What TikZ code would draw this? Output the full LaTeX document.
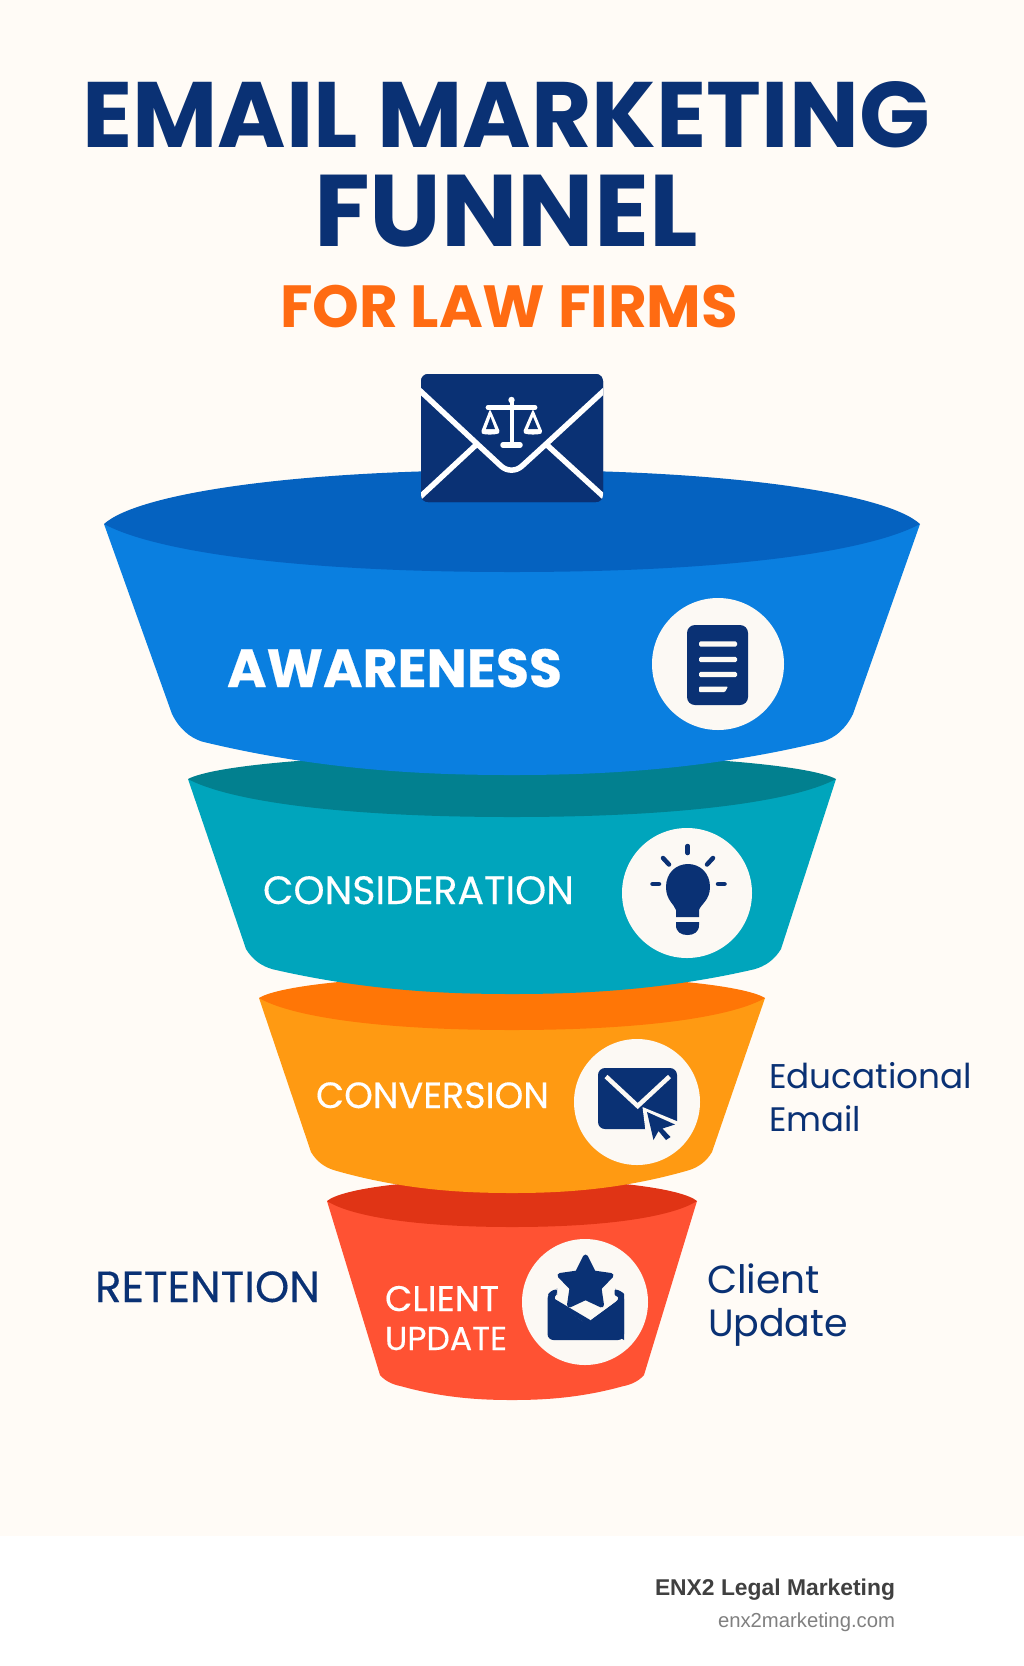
\documentclass[tikz,border=0pt]{standalone}
\usepackage{fontspec}
\usepackage{graphicx}
\setmainfont{Poppins}
\newfontfamily\medfont[FakeBold=0.35]{Poppins}
\newfontfamily\footfont{Liberation Sans}
\definecolor{cream}{HTML}{FFFBF6}
\definecolor{navy}{HTML}{0A3174}
\definecolor{orangetitle}{HTML}{FF6B12}
\definecolor{iconbg}{HTML}{FCF9F4}
\definecolor{blueA}{HTML}{0A7FE0}\definecolor{blueB}{HTML}{0562C0}
\definecolor{tealA}{HTML}{00A5BC}\definecolor{tealB}{HTML}{02808F}
\definecolor{orgA}{HTML}{FF9A12}\definecolor{orgB}{HTML}{FF7606}
\definecolor{redA}{HTML}{FF5233}\definecolor{redB}{HTML}{E03415}
\tikzset{
  txt/.style={anchor=base west,inner sep=0pt,outer sep=0pt},
  disc/.style={circle,fill=iconbg,inner sep=0pt,outer sep=0pt},
  ray/.style={draw=navy,line width=4.5pt,line cap=round},
  wl/.style={draw=white,line width=5.5pt},
}
% L R Y RY BL BR BY LOW body top
\newcommand{\funnelseg}[9]{%
  \pgfmathsetmacro{\cxx}{(#1+#2)/2}%
  \pgfmathsetmacro{\hw}{(#6-#5)/2}%
  \pgfmathsetmacro{\ox}{16+0.04*\hw}%
  \pgfmathsetmacro{\oy}{0.45*(#8-#7)}%
  \fill[#9] (#1,#3) -- (#5,#7)
    .. controls ({#5+0.25*\ox},{#7+0.55*\oy}) and ({#5+0.6*\ox},{#7+0.85*\oy}) .. ({#5+\ox},{#7+\oy})
    .. controls ({#5+\ox+0.4*(\hw-\ox)},{#8-0.1*(#8-#7-\oy)}) and ({\cxx-0.25*(\hw-\ox)},#8) .. (\cxx,#8)
    .. controls ({\cxx+0.25*(\hw-\ox)},#8) and ({#6-\ox-0.4*(\hw-\ox)},{#8-0.1*(#8-#7-\oy)}) .. ({#6-\ox},{#7+\oy})
    .. controls ({#6-0.6*\ox},{#7+0.85*\oy}) and ({#6-0.25*\ox},{#7+0.55*\oy}) .. (#6,#7)
    -- (#2,#3) -- cycle;%
}
\newcommand{\funneltop}[6]{% L R Y up down colour
  \pgfmathsetmacro{\cxx}{(#1+#2)/2}%
  \pgfmathsetmacro{\hw}{(#2-#1)/2}%
  \fill[#6] (#1,#3) .. controls ({#1+0.08*\hw},{#3-0.55*#4}) and ({\cxx-0.55*\hw},{#3-#4}) .. (\cxx,{#3-#4})
     .. controls ({\cxx+0.55*\hw},{#3-#4}) and ({#2-0.08*\hw},{#3-0.55*#4}) .. (#2,#3)
     .. controls ({#2-0.12*\hw},{#3+0.55*#5}) and ({\cxx+0.55*\hw},{#3+#5}) .. (\cxx,{#3+#5})
     .. controls ({\cxx-0.55*\hw},{#3+#5}) and ({#1+0.12*\hw},{#3+0.55*#5}) .. (#1,#3) -- cycle;%
}
\begin{document}
\begin{tikzpicture}[x=1pt,y=-1pt]
\useasboundingbox (0,0) rectangle (1024,1666);
\fill[white] (0,0) rectangle (1024,1666);
\fill[cream] (0,0) rectangle (1024,1536);
% title
\node[txt,text=navy] (title1) at (82,147) {\resizebox{848pt}{!}{\fontsize{60}{60}\selectfont\bfseries EMAIL MARKETING}};
\node[txt,text=navy] (title2) at (314,246) {\resizebox{384pt}{!}{\fontsize{60}{60}\selectfont\bfseries FUNNEL}};
\node[txt,text=orangetitle] (title3) at (280,327) {\resizebox{458pt}{!}{\fontsize{40}{40}\selectfont\bfseries FOR LAW FIRMS}};
% funnel (bottom to top)
\funnelseg{327}{697}{1201}{0}{380}{644}{1375}{1400}{redA}
\funneltop{327}{697}{1201}{22}{26}{redB}
\funnelseg{259}{765}{998}{0}{311}{712}{1152}{1193}{orgA}
\funneltop{259}{765}{998}{23}{32}{orgB}
\funnelseg{188}{836}{779}{0}{246}{781}{949}{994}{tealA}
\funneltop{188}{836}{779}{25}{38}{tealB}
\funnelseg{104}{920}{524}{0}{172}{853}{714}{775}{blueA}
\funneltop{104}{920}{524}{54}{48}{blueB}
% top envelope
\begin{scope}
\fill[navy] (421,374) [rounded corners=7pt] -- (603,374) -- (603,502) -- (421,502) -- cycle;
\clip[rounded corners=7pt] (421,374) rectangle (603,502);
\fill[navy,rounded corners=7pt] (421,374) rectangle (603,502);
\draw[wl] (415,386) -- (478.3,445) -- (501,466) .. controls (507,471.5) and (516,471.5) .. (522,466) -- (545,445) -- (609,386);
\draw[wl] (420,497) -- (476,445);
\draw[wl] (547,445) -- (604,497);
\end{scope}
% scales
\fill[white] (511.5,400) circle (3.2);
\fill[white] (509.5,400) rectangle (513.5,444);
\draw[white,line width=4.8pt,line cap=round] (488,407.5) -- (535,407.5);
\draw[white,line width=5.5pt,line cap=round] (503,445) -- (520,445);
\fill[white,rounded corners=1.5pt] (490,409) -- (481,432) .. controls (483,435) and (497,435) .. (500,432) -- cycle;
\fill[navy] (490.5,417) -- (486,429) -- (495,429) -- cycle;
\fill[white,rounded corners=1.5pt] (533,409) -- (523,432) .. controls (526,435) and (540,435) .. (542.5,432) -- cycle;
\fill[navy] (533,417) -- (528,429) -- (538,429) -- cycle;
% discs
\node[disc,minimum size=132pt] (disc1) at (718,664) {};
\node[disc,minimum size=130pt] (disc2) at (687,893) {};
\node[disc,minimum size=126pt] (disc3) at (637,1102) {};
\node[disc,minimum size=126pt] (disc4) at (585,1302) {};
% document icon
\fill[navy,rounded corners=8pt] (687,625) rectangle (748,705);
\foreach \yy in {644,659.5,674.5}{\fill[iconbg,rounded corners=1.5pt] (699,{\yy-2.7}) rectangle (737,{\yy+2.7});}
\fill[iconbg,rounded corners=1pt] (699,686.5) -- (728,686.5) -- (725,692) -- (699,692) -- cycle;
% bulb icon
\fill[navy] (676,917) -- (676,910) .. controls (674,904) and (666,900) .. (666,887)
  .. controls (666,873) and (676,864) .. (688,864)
  .. controls (700,864) and (710,873) .. (710,887)
  .. controls (710,900) and (701,904) .. (699,910) -- (699,917) -- cycle;
\fill[navy] (676,922) -- (699,922) -- (699,925) .. controls (699,932) and (694,935) .. (687.5,935) .. controls (681,935) and (676,932) .. (676,925) -- cycle;
\draw[ray] (687.7,846) -- (687.7,853);
\draw[ray] (663,858) -- (669,864.5);
\draw[ray] (713,858) -- (707,864.5);
\draw[ray] (652.5,884) -- (659,884);
\draw[ray] (718,884) -- (724.5,884);
% mail-click icon
\fill[navy,rounded corners=7pt] (598,1068) rectangle (677,1129);
\fill[iconbg] (642.5,1107) -- (679,1122) -- (679,1131) -- (645.5,1131) -- cycle;
\draw[iconbg,line width=4.5pt,line join=miter] (606,1076.5) -- (637.7,1106) -- (669.5,1076.5);
\fill[navy] (647,1112) -- (675,1124.5) -- (662.5,1128.5) -- (670.5,1137) -- (666,1140) -- (658.5,1131) -- (653.5,1140) -- cycle;
% open mail with star
\fill[navy,rounded corners=1pt] (548,1295) .. controls (548,1293) and (553,1289.5) .. (557,1289.5) -- (556.5,1295) -- (551,1298.5) -- (585.7,1324) -- (620.7,1298.5) -- (614.5,1295) -- (614.5,1289.5) .. controls (618,1289.5) and (624,1293) .. (624,1295) -- (624,1340);
\fill[navy,rounded corners=6pt] (547.5,1293) -- (557,1289) -- (557,1294) -- (552,1298) -- (585.7,1324) -- (621,1298) -- (615,1294) -- (615,1289) -- (624,1293) -- (624,1340) -- (547.5,1340) -- cycle;
\fill[navy,draw=navy,line width=5pt,line join=round]
  (585.5,1257) -- (593.5,1273) -- (611,1275.5) -- (599,1288) -- (601.5,1305) -- (585.5,1297.5) -- (569.5,1305) -- (572,1288) -- (560,1275.5) -- (577.5,1273) -- cycle;
% labels
\node[txt,text=white] (aw) at (227,687) {\resizebox{335pt}{!}{\fontsize{50}{50}\selectfont\medfont\bfseries AWARENESS}};
\node[txt,text=white] (cons) at (263,904) {\resizebox{311pt}{!}{\fontsize{40}{40}\selectfont\medfont CONSIDERATION}};
\node[txt,text=white] (conv) at (316,1108) {\resizebox{233pt}{!}{\fontsize{40}{40}\selectfont\medfont CONVERSION}};
\node[txt,text=white] (cl1) at (385,1311) {\resizebox{114pt}{!}{\fontsize{40}{40}\selectfont\medfont CLIENT}};
\node[txt,text=white] (cl2) at (385,1350) {\resizebox{122pt}{!}{\fontsize{40}{40}\selectfont\medfont UPDATE}};
\node[txt,text=navy] (edu1) at (769,1088) {\resizebox{203pt}{!}{\fontsize{40}{40}\selectfont Educational}};
\node[txt,text=navy] (edu2) at (769,1131) {\resizebox{92pt}{!}{\fontsize{40}{40}\selectfont Email}};
\node[txt,text=navy] (ret) at (95,1302) {\resizebox{225pt}{!}{\fontsize{40}{40}\selectfont\medfont RETENTION}};
\node[txt,text=navy] (cu1) at (707,1293) {\resizebox{113pt}{!}{\fontsize{40}{40}\selectfont Client}};
\node[txt,text=navy] (cu2) at (708,1336) {\resizebox{140pt}{!}{\fontsize{40}{40}\selectfont Update}};
% footer
\node[txt,text=black!75] (f1) at (655,1595) {\resizebox{240pt}{!}{\fontsize{24}{24}\selectfont\footfont\bfseries ENX2 Legal Marketing}};
\node[txt,text=black!50] (f2) at (718,1627) {\resizebox{177pt}{!}{\fontsize{20}{20}\selectfont\footfont enx2marketing.com}};
\end{tikzpicture}
\end{document}
